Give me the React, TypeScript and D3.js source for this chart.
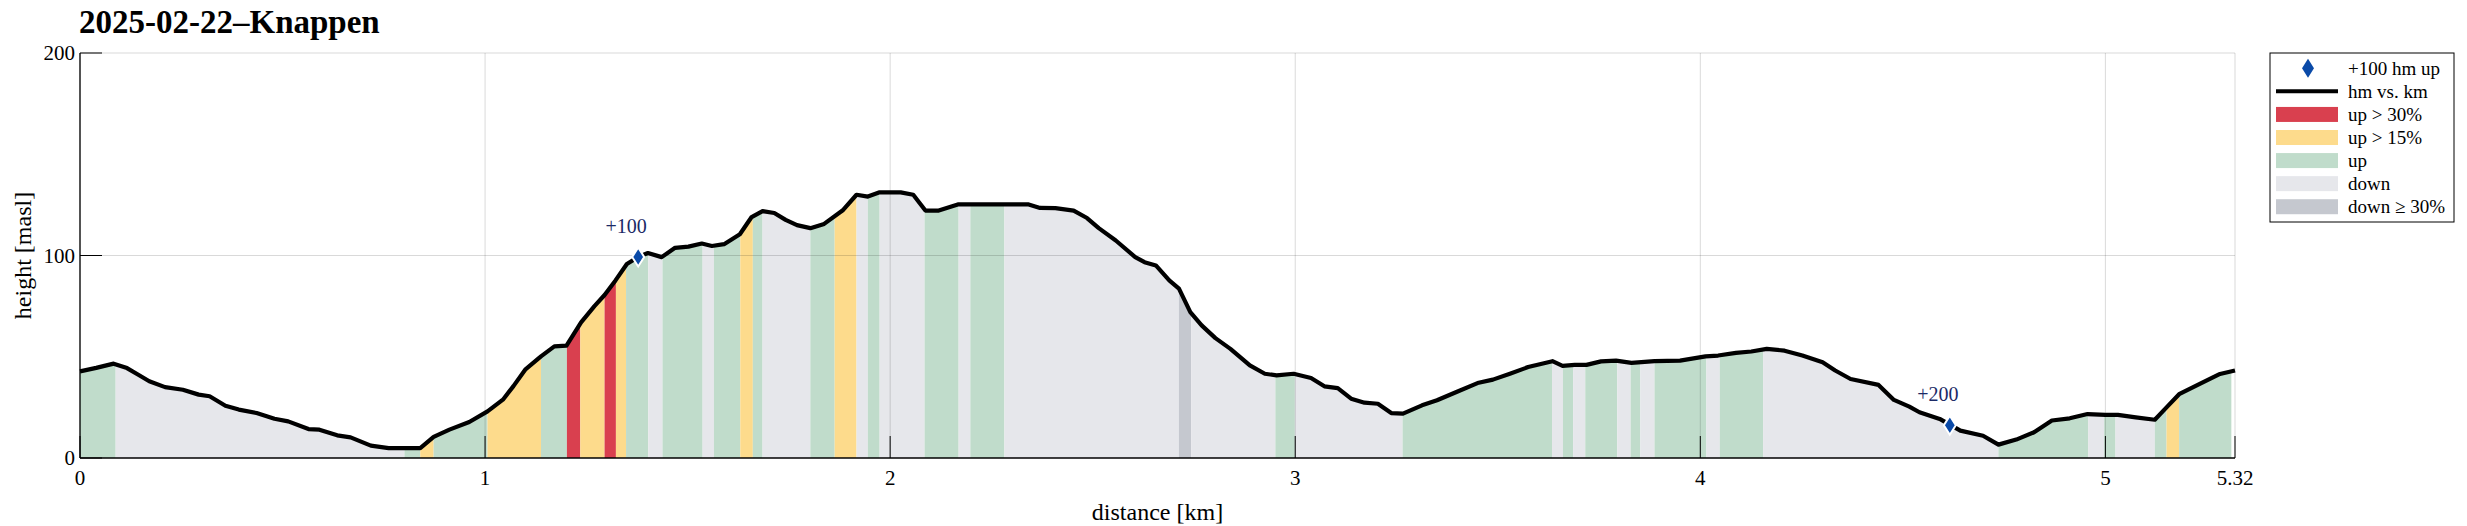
import * as d3 from "d3";
import * as React from "react";

// elevation profile
const profileKm = [
  0, 0.04, 0.083, 0.116, 0.145, 0.171, 0.21, 0.254, 0.293, 0.32, 0.359, 0.392, 0.436, 0.48, 0.514,
  0.564, 0.591, 0.635, 0.668, 0.718, 0.762, 0.84, 0.873, 0.912, 0.961, 1.006, 1.044, 1.07, 1.099,
  1.138, 1.171, 1.201, 1.237, 1.27, 1.295, 1.322, 1.35, 1.378, 1.402, 1.436, 1.469, 1.502, 1.535,
  1.56, 1.59, 1.629, 1.658, 1.685, 1.714, 1.742, 1.77, 1.803, 1.837, 1.884, 1.917, 1.945, 1.974,
  2.026, 2.057, 2.087, 2.12, 2.167, 2.229, 2.342, 2.37, 2.408, 2.453, 2.486, 2.515, 2.557, 2.605,
  2.628, 2.656, 2.689, 2.713, 2.741, 2.769, 2.803, 2.84, 2.888, 2.925, 2.954, 2.996, 3.039, 3.072,
  3.105, 3.138, 3.171, 3.204, 3.237, 3.266, 3.313, 3.35, 3.398, 3.45, 3.488, 3.53, 3.575, 3.635,
  3.66, 3.69, 3.719, 3.755, 3.792, 3.83, 3.887, 3.95, 4.013, 4.044, 4.088, 4.126, 4.164, 4.208,
  4.252, 4.302, 4.333, 4.371, 4.44, 4.478, 4.516, 4.541, 4.591, 4.642, 4.698, 4.736, 4.78, 4.824,
  4.868, 4.912, 4.956, 5.0, 5.031, 5.075, 5.122, 5.151, 5.182, 5.233, 5.283, 5.32,
];
const profileHm = [
  42.8, 44.5, 46.6, 44.4, 41.0, 37.9, 35.0, 33.7, 31.3, 30.5, 25.8, 23.9, 22.2, 19.4, 18.1,
  14.3, 14.0, 11.2, 10.2, 6.1, 4.9, 4.9, 10.4, 14.0, 17.8, 23.0, 28.8, 35.5, 43.6,
  50.2, 55.1, 55.5, 67.0, 75.0, 80.5, 87.7, 95.8, 99.3, 101.2, 99.2, 103.8, 104.4, 105.9,
  104.7, 105.6, 110.5, 119.0, 121.9, 121.0, 117.6, 115.0, 113.5, 115.6, 122.5, 130.0, 129.1, 131.2,
  131.2, 130.0, 122.2, 122.2, 125.2, 125.2, 125.2, 123.5, 123.4, 122.2, 118.5, 113.5, 107.4, 99.2,
  96.7, 95.1, 87.7, 83.6, 72.0, 65.5, 59.2, 53.9, 45.7, 41.6, 40.8, 41.6, 39.5, 35.4,
  34.5, 29.3, 27.3, 26.8, 22.2, 21.9, 26.0, 28.5, 32.6, 37.0, 38.7, 41.6, 44.9, 47.8,
  45.5, 46.0, 46.0, 47.7, 48.1, 47.0, 47.8, 48.1, 50.2, 50.6, 51.9, 52.6, 53.9, 53.0,
  50.6, 47.3, 43.2, 39.0, 36.1, 28.7, 25.4, 22.6, 19.3, 13.5, 11.0, 6.6, 9.1, 12.7,
  18.5, 19.6, 21.7, 21.3, 21.3, 20.1, 18.9, 25.0, 31.5, 36.6, 41.5, 43.2,
];

// slope classes: contiguous intervals between edges
const bandEdges = [
  0, 0.088, 0.801, 0.84, 0.873, 1.006, 1.138, 1.202, 1.235, 1.295, 1.323, 1.348, 1.403, 1.438,
  1.537, 1.565, 1.63, 1.661, 1.685, 1.803, 1.863, 1.917, 1.945, 1.974, 2.085, 2.169, 2.198, 2.282,
  2.713, 2.743, 2.951, 2.999, 3.265, 3.634, 3.661, 3.686, 3.716, 3.795, 3.828, 3.852, 3.887, 4.015,
  4.048, 4.155, 4.736, 4.958, 4.997, 5.025, 5.122, 5.151, 5.182, 5.311,
];
const bandKinds = [
  "up", "down", "up", "up15", "up", "up15", "up", "up30", "up15", "up30", "up15", "up", "down",
  "up", "down", "up", "up15", "up", "down", "up", "up15", "down", "up", "down", "up", "down", "up",
  "down", "down30", "down", "up", "down", "up", "down", "up", "down", "up", "down", "up", "down",
  "up", "down", "up", "down", "up", "down", "up", "down", "up", "up15", "up",
];

const markerKm = [1.378, 4.616];
const markerHm = [99.3, 16.2];
const markerLabels = ["+100", "+200"];

const xTicks = [0, 1, 2, 3, 4, 5, 5.32];
const yTicks = [0, 100, 200];

const kindColor: Record<string, string> = {
  up30: "#d9404f",
  up15: "#fddb8c",
  up: "#c0dccb",
  down: "#e6e7eb",
  down30: "#c5c8cf",
};

const legendItems = [
  { kind: "marker", label: "+100 hm up" },
  { kind: "line", label: "hm vs. km" },
  { kind: "up30", label: "up > 30%" },
  { kind: "up15", label: "up > 15%" },
  { kind: "up", label: "up" },
  { kind: "down", label: "down" },
  { kind: "down30", label: "down \u2265 30%" },
];

const FONT = "'Liberation Serif', 'Times New Roman', serif";
const BLUE = "#0a4aa8";
const diamond = "M0,-9.5L6,0L0,9.5L-6,0Z";

export default function App() {
  React.useEffect(() => {
    document.body.style.margin = "0";
    document.body.style.overflow = "hidden";
  }, []);

  const W = 2467;
  const H = 526;
  const x = d3.scaleLinear().domain([0, 5.32]).range([80, 2235]);
  const y = d3.scaleLinear().domain([0, 200]).range([458, 53]);

  const pts: [number, number][] = profileKm.map((k, i) => [k, profileHm[i]]);
  const area = d3
    .area<[number, number]>()
    .x((d) => x(d[0]))
    .y0(y(0))
    .y1((d) => y(d[1]));
  const line = d3
    .line<[number, number]>()
    .x((d) => x(d[0]))
    .y((d) => y(d[1]));

  const tickLen = 22;
  const lx = 2270,
    ly = 53,
    lw = 184,
    lh = 169;

  return (
    <svg width={W} height={H} style={{ position: "absolute", left: 0, top: 0 }} fontFamily={FONT}>
      <rect width={W} height={H} fill="#fff" />
      <defs>
        <clipPath id="under">
          <path d={area(pts) || ""} />
        </clipPath>
      </defs>

      {/* slope bands, clipped to the area under the profile */}
      <g clipPath="url(#under)">
        {bandKinds.map((k, i) => (
          <rect
            key={"b" + i}
            x={x(bandEdges[i])}
            y={y(200)}
            width={x(bandEdges[i + 1]) - x(bandEdges[i])}
            height={y(0) - y(200)}
            fill={kindColor[k]}
          />
        ))}
      </g>

      {/* grid */}
      <g stroke="#000" strokeOpacity={0.15} strokeWidth={1}>
        {xTicks.map((t) => (
          <line key={"gx" + t} x1={x(t)} x2={x(t)} y1={y(0)} y2={y(200)} />
        ))}
        {yTicks
          .filter((t) => t > 0)
          .map((t) => (
            <line key={"gy" + t} x1={x(0)} x2={x(5.32)} y1={y(t)} y2={y(t)} />
          ))}
      </g>

      {/* ticks */}
      <g stroke="#000" strokeWidth={1}>
        {xTicks.map((t) => (
          <line key={"tx" + t} x1={x(t)} x2={x(t)} y1={y(0)} y2={y(0) - tickLen} />
        ))}
        {yTicks.map((t) => (
          <line key={"ty" + t} x1={x(0)} x2={x(0) + tickLen} y1={y(t)} y2={y(t)} />
        ))}
      </g>

      {/* profile */}
      <path d={line(pts) || ""} fill="none" stroke="#000" strokeWidth={4.2} strokeLinejoin="round" />

      {/* ascent markers */}
      {markerKm.map((k, i) => (
        <g key={"m" + i}>
          <path
            d={diamond}
            transform={`translate(${x(k)},${y(markerHm[i])})`}
            fill={BLUE}
            stroke="#fff"
            strokeWidth={2}
          />
          <text
            x={x(k) - 12}
            y={y(markerHm[i]) - 31}
            textAnchor="middle"
            dominantBaseline="central"
            fontSize={20}
            fill="#1b2a66"
          >
            {markerLabels[i]}
          </text>
        </g>
      ))}

      {/* axes */}
      <line x1={x(0)} x2={x(0)} y1={y(0)} y2={y(200)} stroke="#000" strokeWidth={1.3} />
      <line x1={x(0)} x2={x(5.32)} y1={y(0)} y2={y(0)} stroke="#000" strokeWidth={1.3} />

      {yTicks.map((t) => (
        <text key={"ly" + t} x={x(0) - 5} y={y(t)} textAnchor="end" dominantBaseline="central" fontSize={21}>
          {t}
        </text>
      ))}
      {xTicks.map((t) => (
        <text key={"lx" + t} x={x(t)} y={478} textAnchor="middle" dominantBaseline="central" fontSize={21}>
          {t}
        </text>
      ))}

      <text x={(x(0) + x(5.32)) / 2} y={512} textAnchor="middle" dominantBaseline="central" fontSize={24}>
        distance [km]
      </text>
      <text
        transform={`translate(23,${(y(0) + y(200)) / 2}) rotate(-90)`}
        textAnchor="middle"
        dominantBaseline="central"
        fontSize={24}
      >
        height [masl]
      </text>

      <text x={79} y={22} dominantBaseline="central" fontSize={33} fontWeight="bold">
        2025-02-22–Knappen
      </text>

      {/* legend */}
      <rect x={lx} y={ly} width={lw} height={lh} fill="#fff" stroke="#000" strokeWidth={1} />
      {legendItems.map((it, i) => {
        const cy = ly + 15.3 + i * 23.07;
        let icon: React.ReactNode;
        if (it.kind === "marker") {
          icon = <path d={diamond} transform={`translate(${lx + 38},${cy})`} fill={BLUE} />;
        } else if (it.kind === "line") {
          icon = <line x1={lx + 6} x2={lx + 68} y1={cy} y2={cy} stroke="#000" strokeWidth={4} />;
        } else {
          icon = <rect x={lx + 6} y={cy - 7.5} width={62} height={15} fill={kindColor[it.kind]} />;
        }
        return (
          <g key={"lg" + i}>
            {icon}
            <text x={lx + 78} y={cy} dominantBaseline="central" fontSize={19}>
              {it.label}
            </text>
          </g>
        );
      })}
    </svg>
  );
}
